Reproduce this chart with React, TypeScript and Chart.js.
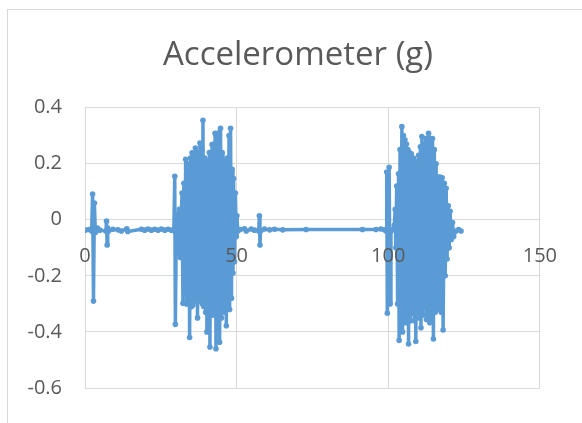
import React, { useEffect, useRef } from "react";
import { Chart, registerables } from "chart.js";

Chart.register(...registerables);

const CHART_TITLE = "Accelerometer (g)";
const X_TICKS = [0, 50, 100, 150];
const Y_TICKS = [-0.6, -0.4, -0.2, 0, 0.2, 0.4];

const SERIES_COLOR = "#5B9BD5";
const GRID_COLOR = "#d9d9d9";
const TEXT_COLOR = "#595959";
const FONT_FAMILY = "'Open Sans', 'Noto Sans', sans-serif";

// Sample times (s) and acceleration readings (g)
const timeSec = [
  0, 1.2, 2.2, 2.5, 2.8, 3.1, 3.4, 4.1, 4.9, 6.9, 7.1, 7.3, 7.5, 7.8, 9.2,
  10.9, 12.0, 13.8, 14.1, 18.6, 19.7, 20.8, 21.9, 23.0, 24.1, 25.2, 26.3,
  27.4, 28.5, 29.3,
  29.6, 29.8, 30.1, 30.5, 30.8, 31.1, 31.4, 31.7,
  32.0, 32.3, 32.6, 32.9, 33.2, 33.5, 33.8, 34.1, 34.3, 34.5, 34.8, 35.1,
  35.3, 35.6, 35.9, 36.1, 36.4, 36.7, 36.9, 37.1, 37.4, 37.6, 37.9, 38.2,
  38.5, 38.7, 38.9, 39.2, 39.5, 39.8, 40.0, 40.2, 40.5, 40.8, 41.0, 41.2,
  41.5, 41.7, 41.9, 42.2, 42.5, 42.7, 42.9, 43.2, 43.5, 43.8, 44.1, 44.4,
  44.7, 45.0, 45.2, 45.5, 45.8, 46.1, 46.3, 46.6, 46.9, 47.2, 47.5, 47.7,
  48.0, 48.3, 48.5, 48.8, 49.0, 49.3, 49.6, 49.9, 50.1, 50.4,
  51.2, 52.6, 53.2, 54.8, 55.9, 57.3, 57.5, 57.7, 57.9, 59.2, 60.9, 62.5,
  65.2, 72.9, 91.5, 96.0, 97.6, 98.8,
  99.3, 99.5, 99.7, 100.3, 100.6, 100.9, 101.5, 102.0,
  102.3, 102.5, 102.8, 103.1, 103.4, 103.6, 103.9, 104.2, 104.5, 104.7,
  105.0, 105.3, 105.5, 105.7, 106.0, 106.3, 106.5, 106.7, 107.0, 107.3,
  107.6, 108.0, 108.3, 108.6, 108.8, 109.1, 109.4, 109.7, 110.0, 110.4,
  110.6, 110.8, 111.1, 111.4, 111.7, 112.0, 112.4, 112.6, 112.9, 113.1,
  113.3, 113.7, 114.0, 114.3, 114.6, 114.9, 115.2, 115.5, 115.8, 116.1,
  116.4, 116.8, 117.1, 117.5, 117.8, 118.1, 118.5, 118.8, 119.1, 119.4,
  119.8, 120.1, 120.4, 120.8, 121.2, 121.6, 122.3, 123.2, 124.0,
];

const accelG = [
  -0.037, -0.035, -0.04, 0.092, -0.29, 0.06, -0.045, -0.03, -0.037, -0.04,
  -0.005, -0.09, -0.03, -0.04, -0.034, -0.036, -0.04, -0.032, -0.042, -0.034,
  -0.037, -0.033, -0.037, -0.034, -0.037, -0.033, -0.037, -0.034, -0.037,
  -0.038,
  0.155, -0.373, -0.05, 0.02, -0.12, 0.037, -0.135, 0.0,
  0.095, -0.298, 0.13, -0.26, 0.216, -0.3, 0.2, -0.25, 0.18, -0.42, 0.22,
  -0.31, 0.239, -0.304, 0.19, -0.29, 0.256, -0.27, 0.22, -0.35, 0.24, -0.29,
  0.274, -0.27, 0.25, -0.3, 0.355, -0.31, 0.22, -0.33, 0.19, -0.4, 0.21,
  -0.36, 0.24, -0.454, 0.23, -0.32, 0.268, -0.34, 0.27, -0.3, 0.308, -0.46,
  0.29, -0.38, 0.31, -0.437, 0.326, -0.35, 0.24, -0.3, 0.21, -0.33, 0.205,
  -0.378, 0.22, -0.31, 0.3, -0.32, 0.326, -0.28, 0.18, -0.19, 0.147, -0.15,
  0.095, -0.06, 0.014, -0.04,
  -0.035, -0.032, -0.04, -0.033, -0.037, -0.04, 0.014, -0.09, -0.04, -0.033,
  -0.036, -0.034, -0.036, -0.035, -0.035, -0.035, -0.033, -0.036,
  -0.04, 0.17, -0.333, 0.187, -0.3, -0.04, -0.035, -0.02,
  0.037, -0.1, 0.12, -0.3, 0.164, -0.43, 0.25, -0.38, 0.332, -0.4,
  0.3, -0.33, 0.285, -0.367, 0.27, -0.34, 0.25, -0.443, 0.24, -0.36,
  0.235, -0.333, 0.22, -0.36, 0.21, -0.434, 0.187, -0.35, 0.23, -0.33,
  0.26, -0.385, 0.297, -0.34, 0.27, -0.31, 0.29, -0.356, 0.28, -0.33,
  0.308, -0.367, 0.29, -0.34, 0.29, -0.425, 0.25, -0.33, 0.2, -0.32,
  0.152, -0.3, 0.152, -0.33, 0.15, -0.393, 0.13, -0.2, 0.112, -0.14,
  0.05, -0.1, 0.03, -0.07, -0.01, -0.06, -0.04, -0.035, -0.04,
];

export default function App() {
  const canvasRef = useRef<HTMLCanvasElement | null>(null);

  useEffect(() => {
    const canvas = canvasRef.current;
    if (!canvas) return;

    const points = timeSec.map((t, i) => ({ x: t, y: accelG[i] }));
    const tickFont = { family: FONT_FAMILY, size: 20 };

    const chart = new Chart(canvas, {
      type: "scatter",
      data: {
        datasets: [
          {
            data: points,
            showLine: true,
            borderColor: SERIES_COLOR,
            backgroundColor: SERIES_COLOR,
            borderWidth: 3.5,
            borderJoinStyle: "round",
            borderCapStyle: "round",
            pointRadius: 2.8,
            pointBorderWidth: 0,
            pointHoverRadius: 2.8,
            tension: 0,
            xAxisID: "x",
            yAxisID: "y",
          },
        ],
      },
      options: {
        responsive: false,
        animation: false,
        devicePixelRatio: 1,
        events: [],
        layout: { padding: { left: 14, right: 0, top: 0, bottom: 26 } },
        plugins: {
          legend: { display: false },
          tooltip: { enabled: false },
          title: {
            display: true,
            text: CHART_TITLE,
            color: TEXT_COLOR,
            font: { family: FONT_FAMILY, size: 33, weight: "normal" },
            padding: { top: 36, bottom: 32 },
          },
        },
        scales: {
          x: {
            type: "linear",
            position: "bottom",
            min: X_TICKS[0],
            max: X_TICKS[X_TICKS.length - 1],
            afterBuildTicks: (s: any) => {
              s.ticks = X_TICKS.map((v) => ({ value: v }));
            },
            afterFit: (s: any) => {
              s.height = 0;
            },
            ticks: { display: false },
            grid: { color: GRID_COLOR, lineWidth: 1, drawTicks: false },
            border: { display: false },
          },
          x2: {
            type: "linear",
            axis: "x",
            position: { y: 0 },
            min: X_TICKS[0],
            max: X_TICKS[X_TICKS.length - 1],
            afterBuildTicks: (s: any) => {
              s.ticks = X_TICKS.map((v) => ({ value: v }));
            },
            ticks: {
              z: 1,
              color: TEXT_COLOR,
              font: tickFont,
              padding: 25,
              maxRotation: 0,
              autoSkip: false,
              callback: (v: any) => String(v),
            },
            grid: { display: false, drawTicks: false },
            border: { display: false },
          },
          y: {
            type: "linear",
            position: "left",
            min: Y_TICKS[0],
            max: Y_TICKS[Y_TICKS.length - 1],
            afterBuildTicks: (s: any) => {
              s.ticks = Y_TICKS.map((v) => ({ value: v }));
            },
            afterFit: (s: any) => {
              s.width = 71;
            },
            ticks: {
              color: TEXT_COLOR,
              font: tickFont,
              padding: 23,
              callback: (v: any) => String(v),
            },
            grid: { color: GRID_COLOR, lineWidth: 1, drawTicks: false },
            border: { display: false },
          },
          // empty right-hand margin beside the plot
          yRight: {
            type: "linear",
            axis: "y",
            position: "right",
            min: Y_TICKS[0],
            max: Y_TICKS[Y_TICKS.length - 1],
            afterFit: (s: any) => {
              s.width = 41;
            },
            ticks: { display: false },
            grid: { display: false, drawTicks: false },
            border: { display: false },
          },
        },
      },
    });

    return () => chart.destroy();
  }, []);

  return (
    <div
      style={{
        position: "fixed",
        left: 0,
        top: 0,
        width: 582,
        height: 423,
        overflow: "hidden",
        background: "#ffffff",
      }}
    >
      <div
        style={{
          position: "absolute",
          left: 7,
          top: 9,
          width: 700,
          height: 600,
          border: `1px solid ${GRID_COLOR}`,
        }}
      />
      <canvas
        ref={canvasRef}
        width={582}
        height={423}
        style={{ position: "absolute", left: 0, top: 0, width: 582, height: 423 }}
      />
    </div>
  );
}
